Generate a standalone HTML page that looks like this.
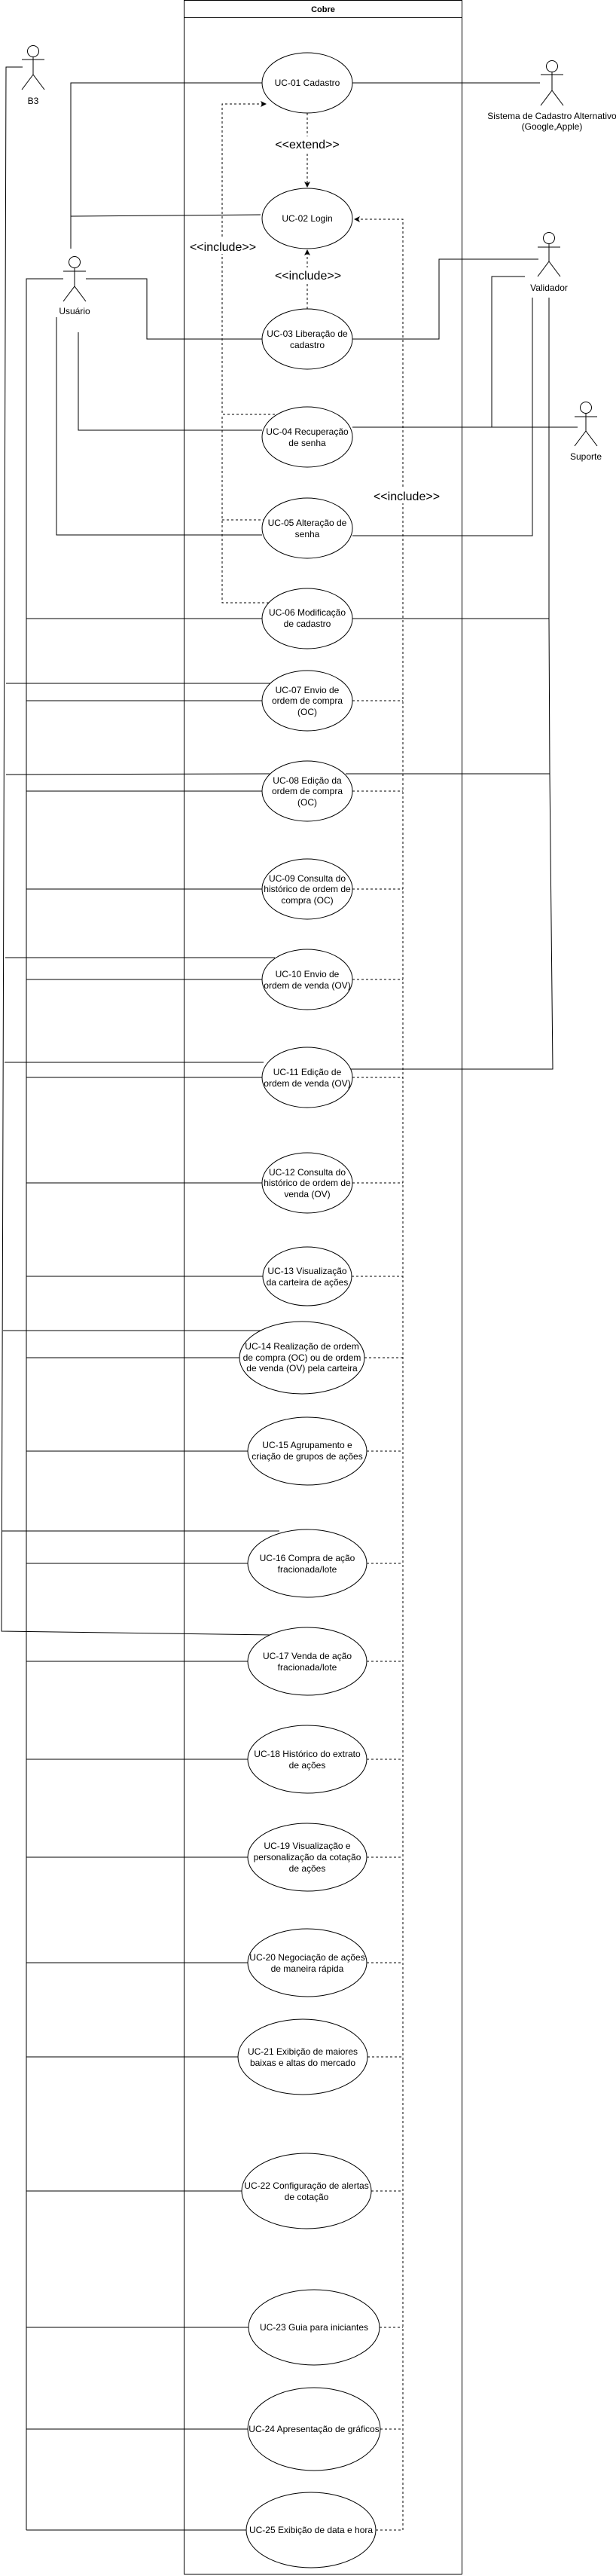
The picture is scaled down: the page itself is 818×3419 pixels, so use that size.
<!DOCTYPE html>
<html><head><meta charset="utf-8"><style>
html,body{margin:0;padding:0;background:#fff;}
svg{display:block;}
text{font-family:"Liberation Sans",sans-serif;font-size:12px;fill:#000;}
</style></head><body>
<svg width="818" height="3419" viewBox="0 0 818 3419" xmlns="http://www.w3.org/2000/svg">
<defs>
<marker id="ah" markerWidth="8" markerHeight="8" refX="7" refY="4" orient="auto" markerUnits="userSpaceOnUse"><path d="M0,0 L8,4 L0,8 L2,4 Z" fill="#000"/></marker>
</defs>
<g fill="none" stroke="#000" stroke-width="1">
<rect x="244.5" y="0.5" width="369" height="3416"/>
<line x1="244.5" y1="23.5" x2="613.5" y2="23.5"/>
</g>
<text x="429" y="16" text-anchor="middle" style="font-weight:bold;font-size:11px">Cobre</text>

<g fill="none" stroke="#000" stroke-width="1">
<g><circle cx="44" cy="68" r="7.5"/><line x1="44" y1="75.5" x2="44" y2="99"/><line x1="29" y1="79" x2="59" y2="79"/><line x1="44" y1="99" x2="29" y2="119"/><line x1="44" y1="99" x2="59" y2="119"/></g>
<g><circle cx="99" cy="348" r="7.5"/><line x1="99" y1="355.5" x2="99" y2="380"/><line x1="84" y1="360" x2="114" y2="360"/><line x1="99" y1="380" x2="84" y2="400"/><line x1="99" y1="380" x2="114" y2="400"/></g>
<g><circle cx="733" cy="88" r="7.5"/><line x1="733" y1="95.5" x2="733" y2="120"/><line x1="718" y1="99" x2="748" y2="99"/><line x1="733" y1="120" x2="718" y2="140"/><line x1="733" y1="120" x2="748" y2="140"/></g>
<g><circle cx="729" cy="316" r="7.5"/><line x1="729" y1="323.5" x2="729" y2="347"/><line x1="714" y1="328" x2="744" y2="328"/><line x1="729" y1="347" x2="714" y2="367"/><line x1="729" y1="347" x2="744" y2="367"/></g>
<g><circle cx="778" cy="541" r="7.5"/><line x1="778" y1="548.5" x2="778" y2="572"/><line x1="763" y1="553" x2="793" y2="553"/><line x1="778" y1="572" x2="763" y2="592"/><line x1="778" y1="572" x2="793" y2="592"/></g>
</g>
<text x="44" y="138" text-anchor="middle">B3</text>
<text x="99" y="417" text-anchor="middle">Usuário</text>
<text x="733" y="158" text-anchor="middle">Sistema de Cadastro Alternativo</text>
<text x="733" y="172" text-anchor="middle">(Google,Apple)</text>
<text x="729" y="386" text-anchor="middle">Validador</text>
<text x="778" y="610" text-anchor="middle">Suporte</text>

<g fill="none" stroke="#000" stroke-width="1">
<polyline points="30,89 8,89 2,2165 362,2170"/>
<line x1="8" y1="907" x2="360" y2="907"/>
<line x1="8" y1="1028" x2="358" y2="1027"/>
<line x1="7" y1="1271" x2="365" y2="1271"/>
<line x1="6" y1="1410" x2="350" y2="1410"/>
<line x1="4" y1="1766" x2="352" y2="1766"/>
<line x1="3" y1="2032" x2="371" y2="2032"/>
<polyline points="94,330 94,110 348,110"/>
<line x1="94" y1="287" x2="346" y2="285"/>
<line x1="468" y1="110" x2="717" y2="110"/>
<polyline points="114,370 195,370 195,450 348,450"/>
<polyline points="468,450 583,450 583,344 715,344"/>
<polyline points="104,441 104,571 348,571"/>
<polyline points="84,370 35,370 35,3358"/>
<polyline points="75,421 75,710 348,710"/>
<line x1="468" y1="567" x2="767" y2="567"/>
<polyline points="697,367 653,367 653,567"/>
<polyline points="707,395 707,711 468,711"/>
<polyline points="729,395 729,821 468,821"/>
<polyline points="729,821 730,1027 459,1027"/>
<polyline points="730,1027 734,1419 466,1419"/>
<line x1="35" y1="821" x2="348" y2="821"/>
<line x1="35" y1="930" x2="348" y2="930"/>
<line x1="35" y1="1050" x2="348" y2="1050"/>
<line x1="35" y1="1180" x2="348" y2="1180"/>
<line x1="35" y1="1300" x2="348" y2="1300"/>
<line x1="35" y1="1430" x2="348" y2="1430"/>
<line x1="35" y1="1570" x2="348" y2="1570"/>
<line x1="35" y1="1694" x2="349" y2="1694"/>
<line x1="35" y1="1802" x2="318" y2="1802"/>
<line x1="35" y1="1926" x2="329" y2="1926"/>
<line x1="35" y1="2075" x2="329" y2="2075"/>
<line x1="35" y1="2205" x2="329" y2="2205"/>
<line x1="35" y1="2335" x2="329" y2="2335"/>
<line x1="35" y1="2465" x2="329" y2="2465"/>
<line x1="35" y1="2605" x2="329" y2="2605"/>
<line x1="35" y1="2730" x2="316" y2="2730"/>
<line x1="35" y1="2908" x2="321" y2="2908"/>
<line x1="35" y1="3089" x2="330" y2="3089"/>
<line x1="35" y1="3224" x2="329" y2="3224"/>
<line x1="35" y1="3358" x2="327" y2="3358"/>
</g>

<g fill="none" stroke="#000" stroke-width="1" stroke-dasharray="3,3">
<line x1="408" y1="150" x2="408" y2="248" marker-end="url(#ah)"/>
<line x1="408" y1="410" x2="408" y2="332" marker-end="url(#ah)"/>
<polyline points="365,550 295,550 295,138 353,138" marker-end="url(#ah)"/>
<polyline points="358,690 295,690"/>
<polyline points="357,800 295,800 295,550"/>
<polyline points="535,3358 535,291 471,291" marker-end="url(#ah)"/>
<line x1="468" y1="930" x2="535" y2="930"/>
<line x1="468" y1="1050" x2="535" y2="1050"/>
<line x1="468" y1="1180" x2="535" y2="1180"/>
<line x1="468" y1="1300" x2="535" y2="1300"/>
<line x1="468" y1="1430" x2="535" y2="1430"/>
<line x1="468" y1="1570" x2="535" y2="1570"/>
<line x1="467" y1="1694" x2="535" y2="1694"/>
<line x1="484" y1="1802" x2="535" y2="1802"/>
<line x1="487" y1="1926" x2="535" y2="1926"/>
<line x1="487" y1="2075" x2="535" y2="2075"/>
<line x1="487" y1="2205" x2="535" y2="2205"/>
<line x1="487" y1="2335" x2="535" y2="2335"/>
<line x1="487" y1="2465" x2="535" y2="2465"/>
<line x1="487" y1="2605" x2="535" y2="2605"/>
<line x1="488" y1="2730" x2="535" y2="2730"/>
<line x1="493" y1="2908" x2="535" y2="2908"/>
<line x1="504" y1="3089" x2="535" y2="3089"/>
<line x1="505" y1="3224" x2="535" y2="3224"/>
<line x1="499" y1="3358" x2="535" y2="3358"/>
</g>
<g fill="#fff" stroke="none">
<rect x="365" y="181" width="86" height="20"/>
<rect x="365" y="355" width="88" height="20"/>
<rect x="252" y="317" width="88" height="20"/>
<rect x="496" y="648" width="88" height="20"/>
</g>
<text x="408" y="197" text-anchor="middle" style="font-size:16px">&lt;&lt;extend&gt;&gt;</text>
<text x="409" y="371" text-anchor="middle" style="font-size:16px">&lt;&lt;include&gt;&gt;</text>
<text x="296" y="333" text-anchor="middle" style="font-size:16px">&lt;&lt;include&gt;&gt;</text>
<text x="540" y="664" text-anchor="middle" style="font-size:16px">&lt;&lt;include&gt;&gt;</text>

<g fill="#fff" stroke="#000" stroke-width="1">
<ellipse cx="408" cy="110" rx="60" ry="40"/>
<ellipse cx="408" cy="290" rx="60" ry="40"/>
<ellipse cx="408" cy="450" rx="60" ry="40"/>
<ellipse cx="408" cy="580" rx="60" ry="40"/>
<ellipse cx="408" cy="701" rx="60" ry="40"/>
<ellipse cx="408" cy="821" rx="60" ry="40"/>
<ellipse cx="408" cy="930" rx="60" ry="40"/>
<ellipse cx="408" cy="1050" rx="60" ry="40"/>
<ellipse cx="408" cy="1180" rx="60" ry="40"/>
<ellipse cx="408" cy="1300" rx="60" ry="40"/>
<ellipse cx="408" cy="1430" rx="60" ry="40"/>
<ellipse cx="408" cy="1570" rx="60" ry="40"/>
<ellipse cx="408" cy="1694" rx="59" ry="39"/>
<ellipse cx="401" cy="1802" rx="83" ry="48"/>
<ellipse cx="408" cy="1926" rx="79" ry="45"/>
<ellipse cx="408" cy="2075" rx="79" ry="45"/>
<ellipse cx="408" cy="2205" rx="79" ry="45"/>
<ellipse cx="408" cy="2335" rx="79" ry="45"/>
<ellipse cx="408" cy="2465" rx="79" ry="45"/>
<ellipse cx="408" cy="2605" rx="79" ry="45"/>
<ellipse cx="402" cy="2730" rx="86" ry="50"/>
<ellipse cx="407" cy="2908" rx="86" ry="50"/>
<ellipse cx="417" cy="3089" rx="87" ry="50"/>
<ellipse cx="417" cy="3224" rx="88" ry="55"/>
<ellipse cx="413" cy="3358" rx="86" ry="50"/>
</g>
<g text-anchor="middle">
<text x="408" y="114">UC-01 Cadastro</text>
<text x="408" y="294">UC-02 Login</text>
<text x="408" y="447">UC-03 Liberação de</text><text x="408" y="462">cadastro</text>
<text x="408" y="577">UC-04 Recuperação</text><text x="408" y="592">de senha</text>
<text x="408" y="698">UC-05 Alteração de</text><text x="408" y="713">senha</text>
<text x="408" y="817">UC-06 Modificação</text><text x="408" y="832">de cadastro</text>
<text x="408" y="920">UC-07 Envio de</text><text x="408" y="934">ordem de compra</text><text x="408" y="949">(OC)</text>
<text x="408" y="1040">UC-08 Edição da</text><text x="408" y="1054">ordem de compra</text><text x="408" y="1069">(OC)</text>
<text x="408" y="1170">UC-09 Consulta do</text><text x="408" y="1184">histórico de ordem de</text><text x="408" y="1199">compra (OC)</text>
<text x="408" y="1297">UC-10 Envio de</text><text x="408" y="1312">ordem de venda (OV)</text>
<text x="408" y="1427">UC-11 Edição de</text><text x="408" y="1442">ordem de venda (OV)</text>
<text x="408" y="1560">UC-12 Consulta do</text><text x="408" y="1574">histórico de ordem de</text><text x="408" y="1589">venda (OV)</text>
<text x="408" y="1691">UC-13 Visualização</text><text x="408" y="1706">da carteira de ações</text>
<text x="401" y="1791">UC-14 Realização de ordem</text><text x="401" y="1806">de compra (OC) ou de ordem</text><text x="401" y="1820">de venda (OV) pela carteira</text>
<text x="408" y="1922">UC-15 Agrupamento e</text><text x="408" y="1937">criação de grupos de ações</text>
<text x="408" y="2072">UC-16 Compra de ação</text><text x="408" y="2087">fracionada/lote</text>
<text x="408" y="2202">UC-17 Venda de ação</text><text x="408" y="2217">fracionada/lote</text>
<text x="408" y="2332">UC-18 Histórico do extrato</text><text x="408" y="2347">de ações</text>
<text x="408" y="2454">UC-19 Visualização e</text><text x="408" y="2469">personalização da cotação</text><text x="408" y="2484">de ações</text>
<text x="408" y="2602">UC-20 Negociação de ações</text><text x="408" y="2617">de maneira rápida</text>
<text x="402" y="2727">UC-21 Exibição de maiores</text><text x="402" y="2742">baixas e altas do mercado</text>
<text x="407" y="2905">UC-22 Configuração de alertas</text><text x="407" y="2920">de cotação</text>
<text x="417" y="3093">UC-23 Guia para iniciantes</text>
<text x="417" y="3228">UC-24 Apresentação de gráficos</text>
<text x="413" y="3362">UC-25 Exibição de data e hora</text>
</g>
</svg>
</body></html>
